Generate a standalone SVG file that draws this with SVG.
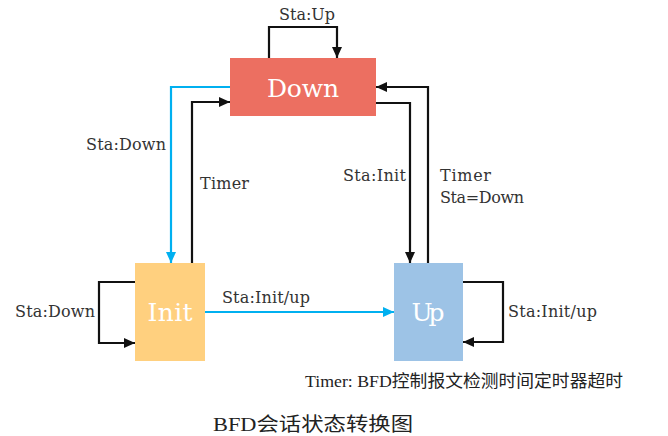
<svg xmlns="http://www.w3.org/2000/svg" width="668" height="436" viewBox="0 0 668 436">
<style>
.lbl{font-family:"DejaVu Serif","Liberation Serif",serif;font-size:16px;fill:#333}
.node{font-family:"DejaVu Serif","Liberation Serif",serif;font-size:25px;fill:#fff;text-anchor:middle}
.cap{font-family:"Liberation Serif","Noto Sans CJK SC",serif;font-size:17px;fill:#222}
.blk{fill:none;stroke:#111;stroke-width:2.2}
.blu{fill:none;stroke:#00b0f0;stroke-width:2.2}
</style>
<defs>
<marker id="ab" markerUnits="userSpaceOnUse" markerWidth="12" markerHeight="10" refX="11" refY="5" orient="auto"><path d="M0,0 L11,5 L0,10 Z" fill="#111"/></marker>
<marker id="au" markerUnits="userSpaceOnUse" markerWidth="12" markerHeight="10" refX="11" refY="5" orient="auto"><path d="M0,0 L11,5 L0,10 Z" fill="#00b0f0"/></marker>
</defs>
<rect width="668" height="436" fill="#fff"/>
<g id="connectors">
<path class="blk" d="M269,58 V27 H337 V58" marker-end="url(#ab)"/>
<path class="blu" d="M230,87 H171 V263" marker-end="url(#au)"/>
<path class="blk" d="M192,263 V102 H230" marker-end="url(#ab)"/>
<path class="blk" d="M135,282 H99 V343 H135" marker-end="url(#ab)"/>
<path class="blu" d="M205,312 H394" marker-end="url(#au)"/>
<path class="blk" d="M376,103 H410 V263" marker-end="url(#ab)"/>
<path class="blk" d="M428,263 V87 H376" marker-end="url(#ab)"/>
<path class="blk" d="M463,282 H503 V342 H463" marker-end="url(#ab)"/>
<text class="lbl" x="279" y="20" textLength="56">Sta:Up</text>
<text class="lbl" x="86" y="150" textLength="80">Sta:Down</text>
<text class="lbl" x="200" y="189" textLength="49">Timer</text>
<text class="lbl" x="15" y="317" textLength="80">Sta:Down</text>
<text class="lbl" x="222" y="303" textLength="88">Sta:Init/up</text>
<text class="lbl" x="343" y="181" textLength="63">Sta:Init</text>
<text class="lbl" x="440" y="181" textLength="51">Timer</text>
<text class="lbl" x="440" y="203" textLength="84">Sta=Down</text>
<text class="lbl" x="508" y="317" textLength="89">Sta:Init/up</text>
</g>
<g id="down">
<rect x="230" y="58" width="146" height="58" fill="#ec6f61"/>
<text class="node" x="303" y="97" textLength="72">Down</text>
</g>
<g id="init">
<rect x="135" y="263" width="70" height="98" fill="#ffd07f"/>
<text class="node" x="170" y="321" textLength="45">Init</text>
</g>
<g id="up">
<rect x="394" y="263" width="69" height="98" fill="#9dc3e6"/>
<text class="node" x="428" y="321" textLength="33">Up</text>
</g>
<g id="notes">
<text class="cap" x="305" y="387" textLength="318" lengthAdjust="spacingAndGlyphs">Timer: BFD控制报文检测时间定时器超时</text>
<text class="cap" x="213" y="431" style="font-size:19px" textLength="200" lengthAdjust="spacingAndGlyphs">BFD会话状态转换图</text>
</g>
</svg>
